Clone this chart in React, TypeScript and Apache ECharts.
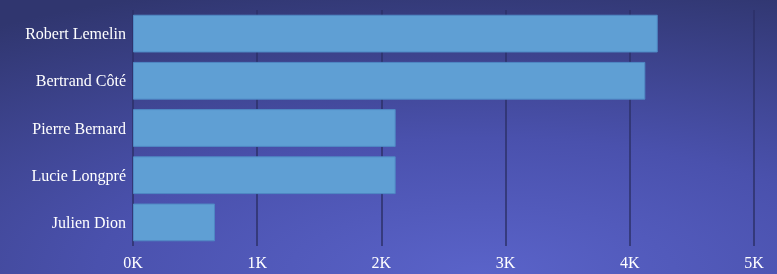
import React, { useEffect, useRef } from "react";
import * as echarts from "echarts";

const categories = ["Julien Dion", "Lucie Longpré", "Pierre Bernard", "Bertrand Côté", "Robert Lemelin"];
const values = [660, 2115, 2115, 4125, 4225];
const tickLabels = ["0K", "1K", "2K", "3K", "4K", "5K"];

export default function App() {
  const ref = useRef<HTMLDivElement>(null);
  useEffect(() => {
    if (!ref.current) return;
    const chart = echarts.init(ref.current, null, { renderer: "svg" });
    const font = "'Liberation Serif', serif";
    chart.setOption({
      animation: false,
      backgroundColor: new echarts.graphic.RadialGradient(0.62, 1.0, 1.1, [
        { offset: 0, color: "#5a63c9" },
        { offset: 0.45, color: "#4a51ad" },
        { offset: 1, color: "#30366f" },
      ]),
      grid: { left: 133, right: 23, top: 10, bottom: 28 },
      xAxis: {
        type: "value",
        min: 0,
        max: 5000,
        interval: 1000,
        axisLine: { show: false },
        axisTick: { show: false },
        splitLine: { show: true, lineStyle: { color: "#2c3168", width: 1.5 } },
        axisLabel: {
          color: "#ffffff",
          fontFamily: font,
          fontSize: 16,
          margin: 8,
          formatter: (v: number) => tickLabels[Math.round(v / 1000)] ?? "",
        },
      },
      yAxis: {
        type: "category",
        data: categories,
        axisLine: { show: false },
        axisTick: { show: false },
        axisLabel: { color: "#ffffff", fontFamily: font, fontSize: 16, margin: 7 },
      },
      series: [
        {
          type: "bar",
          data: values,
          barCategoryGap: "20%",
          itemStyle: { color: "#5f9fd4", borderColor: "#4f88c4", borderWidth: 1 },
        },
      ],
    });
    return () => chart.dispose();
  }, []);
  return <div ref={ref} style={{ position: "fixed", left: 0, top: 0, width: 777, height: 274 }} />;
}
